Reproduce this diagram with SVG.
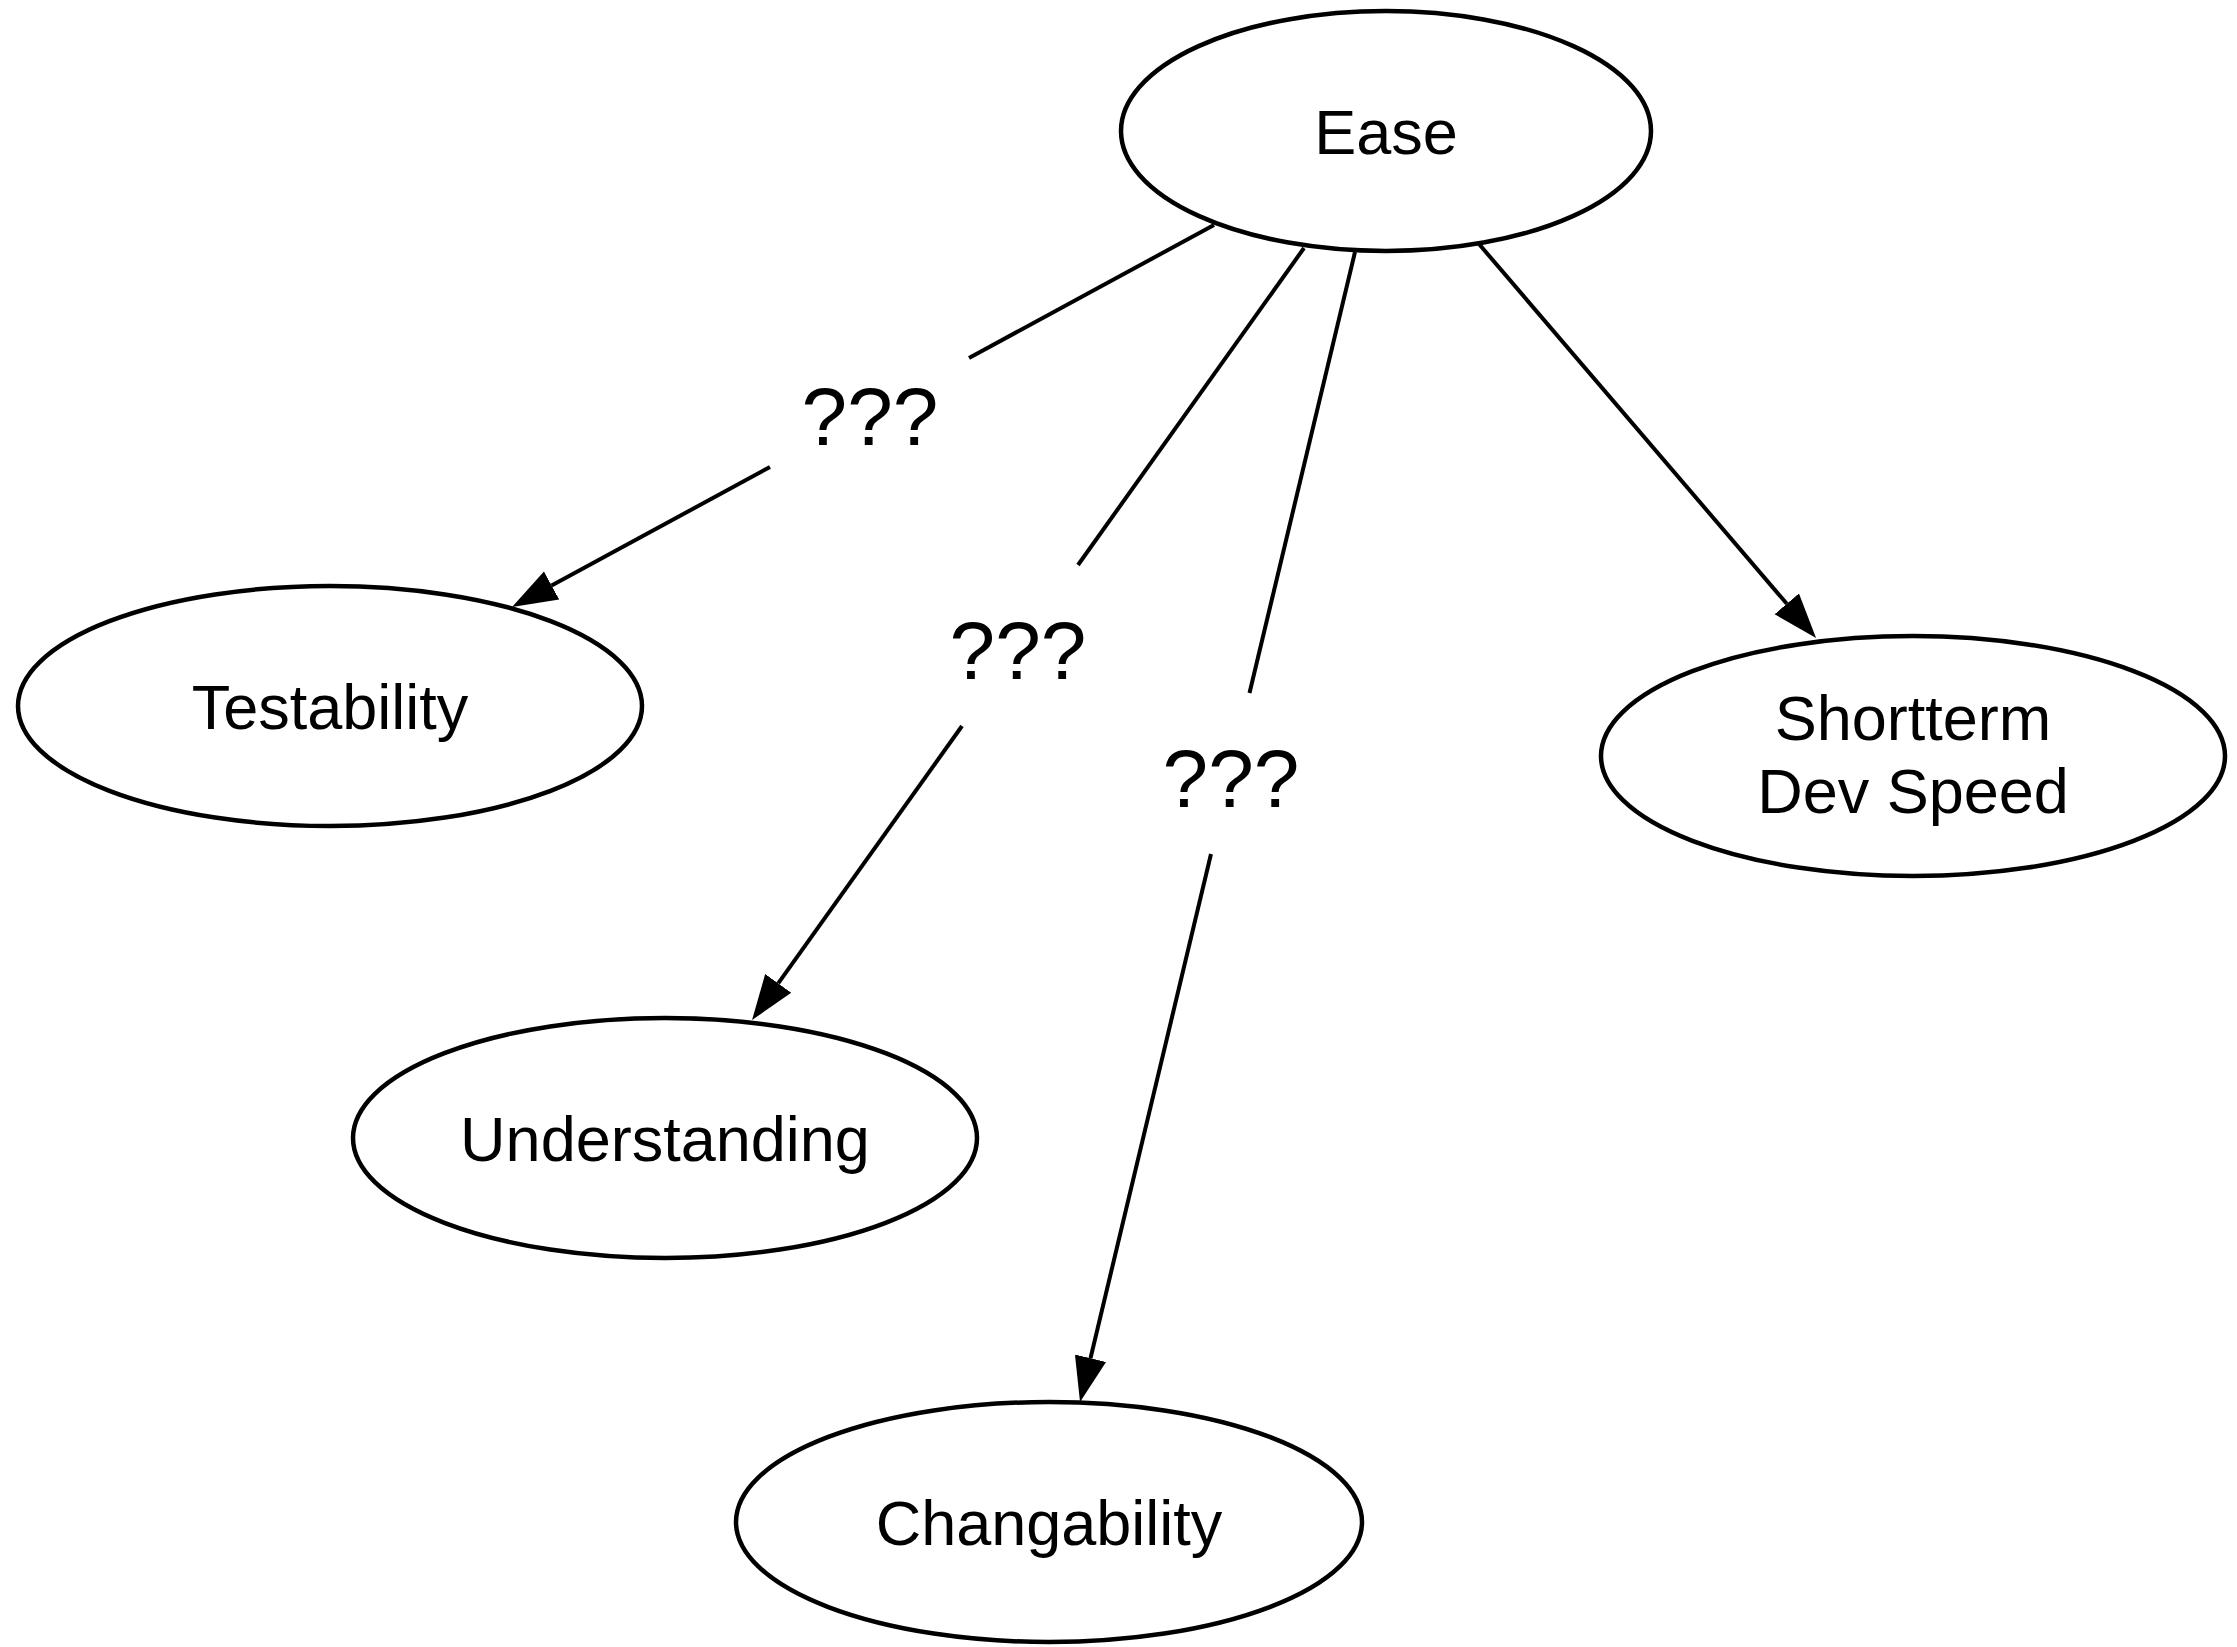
<svg xmlns="http://www.w3.org/2000/svg" width="2237" height="1647" viewBox="0 0 2237 1647">
<style>
.node ellipse{fill:#fff;stroke:#000;stroke-width:4.5}
.node text{font-family:"Liberation Sans",Arial,sans-serif;font-size:63px;text-anchor:middle;fill:#000}
.edge line{stroke:#000;stroke-width:4}
.lbl{font-family:"Liberation Sans",Arial,sans-serif;font-size:82px;text-anchor:middle;fill:#000}
</style>
<defs>
<marker id="arr" markerUnits="userSpaceOnUse" markerWidth="46" markerHeight="34" refX="0" refY="16" orient="auto" viewBox="0 0 46 32">
<path d="M0,0 L45,16 L0,32 z" fill="#000"/>
</marker>
</defs>
<rect width="2237" height="1647" fill="#fff"/>
<g id="connectors" class="edge">
<line x1="1214" y1="225" x2="969" y2="358"/>
<line x1="770" y1="467" x2="551.6" y2="585.5" marker-end="url(#arr)"/>
<text class="lbl" x="870" y="445">???</text>
<line x1="1304" y1="248" x2="1078" y2="565"/>
<line x1="962" y1="726" x2="778.2" y2="983.4" marker-end="url(#arr)"/>
<text class="lbl" x="1018" y="679">???</text>
<line x1="1355" y1="252" x2="1249.5" y2="693"/>
<line x1="1211" y1="854" x2="1090.5" y2="1358.2" marker-end="url(#arr)"/>
<text class="lbl" x="1231" y="807">???</text>
<line x1="1479" y1="244" x2="1786.8" y2="603.8" marker-end="url(#arr)"/>
</g>
<g id="ease" class="node"><ellipse cx="1386" cy="131" rx="265" ry="120"/><text x="1386" y="154">Ease</text></g>
<g id="testability" class="node"><ellipse cx="330" cy="706" rx="312" ry="120"/><text x="330" y="729">Testability</text></g>
<g id="understanding" class="node"><ellipse cx="665" cy="1138" rx="312" ry="120"/><text x="665" y="1161">Understanding</text></g>
<g id="changability" class="node"><ellipse cx="1049" cy="1522" rx="313" ry="120"/><text x="1049" y="1545">Changability</text></g>
<g id="shortterm" class="node"><ellipse cx="1913" cy="756" rx="312" ry="120"/><text x="1913" y="740">Shortterm</text><text x="1913" y="813">Dev Speed</text></g>
</svg>
